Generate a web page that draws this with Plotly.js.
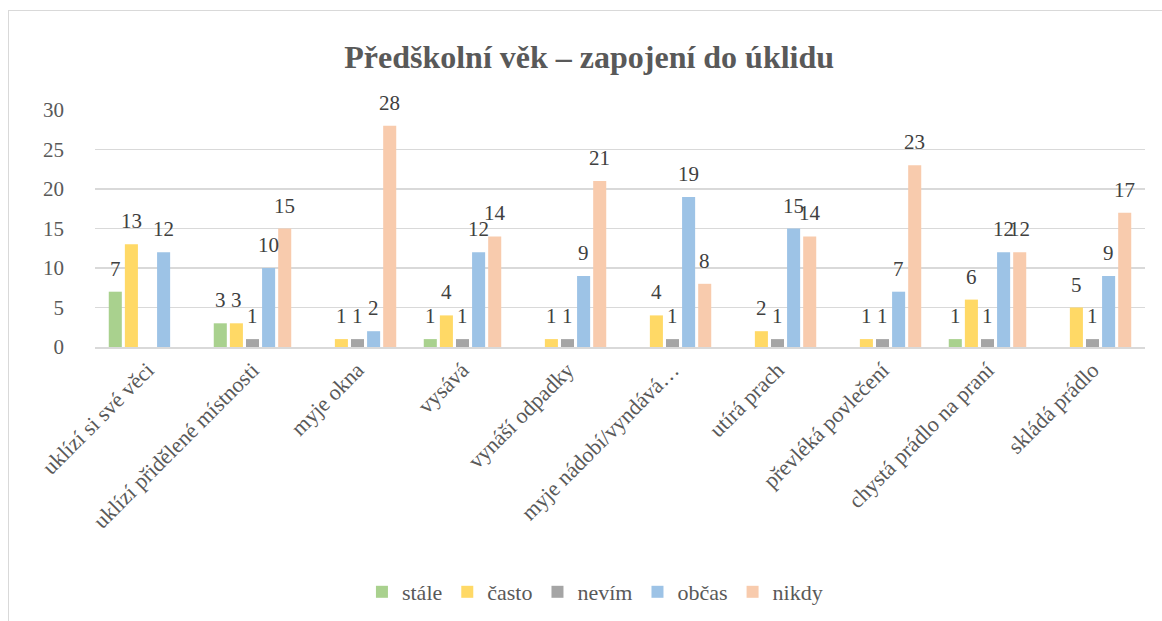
<!DOCTYPE html>
<html>
<head>
<meta charset="utf-8">
<script src="https://cdn.plot.ly/plotly-3.0.1.min.js"></script>
<style>
html,body{margin:0;padding:0;background:#fff;font-family:'Liberation Serif', serif;}
#chart{width:1162px;height:621px;}
#chart svg text, #chart svg tspan{font-family:'Liberation Serif', 'Times New Roman', serif !important;}
#frame{position:absolute;left:8px;top:10px;width:1200px;height:700px;border:1px solid #d9d9d9;pointer-events:none;}
</style>
</head>
<body>
<div id="chart"></div>
<div id="frame"></div>
<script>
const categories = ["uklízí si své věci","uklízí přidělené místnosti","myje okna","vysává","vynáší odpadky","myje nádobí/vyndává…","utírá prach","převléká povlečení","chystá prádlo na praní","skládá prádlo"];
const stale = [7,3,0,1,0,0,0,0,1,0];
const casto = [13,3,1,4,1,4,2,1,6,5];
const nevim = [0,1,1,1,1,1,1,1,1,1];
const obcas = [12,10,2,12,9,19,15,7,12,9];
const nikdy = [0,15,28,14,21,8,14,23,12,17];
const seriesNames = ["stále","často","nevím","občas","nikdy"];
const seriesColors = ["#A9D18E","#FFD966","#A5A5A5","#9DC3E6","#F8CBAD"];
const seriesValues = [stale,casto,nevim,obcas,nikdy];

const font = "Liberation Serif";
const traces = seriesValues.map((vals,i)=>({
  type:'bar',
  name:seriesNames[i],
  x:categories,
  y:vals,
  marker:{color:seriesColors[i]},
  hoverinfo:'none'
}));

const slot = 16.1;
const annotations = [];
seriesValues.forEach((vals,i)=>{
  vals.forEach((v,j)=>{
    if(v>0){
      annotations.push({x:categories[j],y:v,xref:'x',yref:'y',text:String(v),showarrow:false,
        xanchor:'center',yanchor:'bottom',xshift:(i-2)*slot,yshift:9,
        font:{family:font,size:21,color:'#404040'}});
    }
  });
});

const layout = {
  width:1162,height:621,
  font:{family:font,size:20,color:'#595959'},
  margin:{l:95,r:17,t:110,b:274},
  paper_bgcolor:'#fff',plot_bgcolor:'#fff',
  barmode:'group',bargap:0.233,bargroupgap:0.19,
  title:{text:'<b>Předškolní věk – zapojení do úklidu</b>',font:{family:font,size:32,color:'#595959'},x:0.507,xref:'container',xanchor:'center',y:1-57/621,yref:'container',yanchor:'middle'},
  xaxis:{tickangle:-45,tickfont:{family:font,size:22,color:'#595959'},showline:true,linecolor:'#d9d9d9',linewidth:1.5,showgrid:false,ticks:''},
  yaxis:{range:[0,30],dtick:5,tickfont:{family:font,size:21,color:'#595959'},gridcolor:'#d9d9d9',gridwidth:1.5,zeroline:false,ticklabelstandoff:30,showline:false},
  legend:{orientation:'h',x:0.512,xref:'container',xanchor:'center',y:1-592/621,yref:'container',yanchor:'middle',font:{family:font,size:22,color:'#595959'},itemwidth:30,traceorder:'normal'},
  annotations:annotations,
  showlegend:true
};

function applyFont(){
  document.querySelectorAll('#chart text, #chart tspan').forEach(t=>{
    t.style.setProperty('font-family',"'Liberation Serif', 'Times New Roman', serif",'important');
    t.setAttribute('font-family',"Liberation Serif");
  });
}
function draw(){
  return Plotly.newPlot('chart',traces,layout,{displayModeBar:false,staticPlot:true}).then(gd=>{
    applyFont();
    requestAnimationFrame(applyFont);
    setTimeout(applyFont,50);
  });
}
const loads = (document.fonts && document.fonts.load) ? Promise.all([
  document.fonts.load("22px 'Liberation Serif'"),
  document.fonts.load("bold 22px 'Liberation Serif'")
]).catch(()=>{}) : Promise.resolve();
loads.then(draw, draw);
</script>
</body>
</html>
